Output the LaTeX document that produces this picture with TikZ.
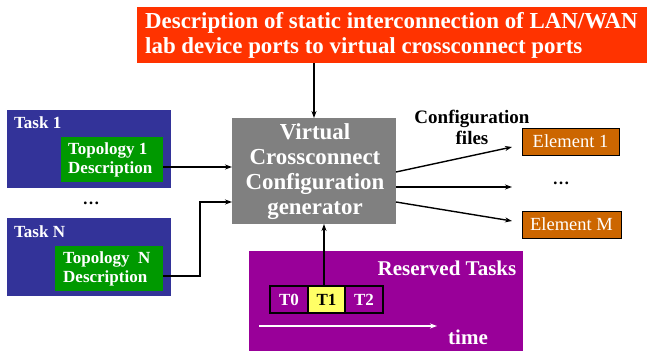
\documentclass[tikz,border=0pt]{standalone}
\usepackage{fontspec}
\setmainfont{Liberation Serif}
\usetikzlibrary{arrows.meta}
\definecolor{cred}{HTML}{FF3300}
\definecolor{cblue}{HTML}{333399}
\definecolor{cgreen}{HTML}{009900}
\definecolor{cgray}{HTML}{808080}
\definecolor{corange}{HTML}{CC6600}
\definecolor{cpurple}{HTML}{990099}
\definecolor{cyellow}{HTML}{FFFF66}
\tikzset{
  box/.style={rectangle, inner sep=0pt, outer sep=0pt},
  arr/.style={line width=1.4pt, -{Stealth[length=7pt,width=5pt]}},
  wtxt/.style={text=white, font=\bfseries},
  elem/.style={box, fill=corange, draw=black, line width=0.8pt, text=white,
    font=\fontsize{18.5}{20}\selectfont, minimum height=27pt},
  tbox/.style={box, draw=black, line width=1.6pt, minimum height=27pt,
    font=\fontsize{17}{18}\selectfont\bfseries},
}
\begin{document}
\begin{tikzpicture}[x=1pt,y=-1pt]
\useasboundingbox (0,0) rectangle (648,351);
% top red
\node[box, fill=cred, minimum width=510pt, minimum height=56pt] (desc) at (392,35) {};
\node[wtxt, anchor=west, align=left, inner sep=0pt,
  font=\fontsize{22.9}{25}\selectfont\bfseries] (desct) at (145,35)
  {Description of static interconnection of LAN/WAN\\lab device ports to virtual crossconnect ports};
% generator
\node[box, fill=cgray, minimum width=164pt, minimum height=106pt] (gen) at (314,171) {};
\node[wtxt, align=center, inner sep=0pt, font=\fontsize{22.9}{25}\selectfont\bfseries] (gent) at (315,172)
  {Virtual\\Crossconnect\\Configuration\\generator};
% tasks
\node[box, fill=cblue, minimum width=164pt, minimum height=78pt] (task1) at (89,149) {};
\node[wtxt, anchor=base west, inner sep=0pt, font=\fontsize{17}{19}\selectfont\bfseries] (task1t) at (14,128) {Task 1};
\node[box, fill=cgreen, minimum width=102pt, minimum height=45pt] (topo1) at (112,159.5) {};
\node[wtxt, anchor=west, align=left, inner sep=0pt, font=\fontsize{17}{19}\selectfont\bfseries] (topo1t) at (68,160)
  {Topology 1\\Description};
\node[font=\fontsize{17}{18}\selectfont\bfseries] (tdots) at (91,203) {\dots};
\node[box, fill=cblue, minimum width=164pt, minimum height=78pt] (taskn) at (89,257) {};
\node[wtxt, anchor=base west, inner sep=0pt, font=\fontsize{17}{19}\selectfont\bfseries] (tasknt) at (14,237) {Task N};
\node[box, fill=cgreen, minimum width=108pt, minimum height=45pt] (topon) at (109,268.5) {};
\node[wtxt, anchor=west, align=left, inner sep=0pt, font=\fontsize{17}{19}\selectfont\bfseries] (topont) at (63,269)
  {Topology\ \ N\\Description};
% elements
\node[elem, minimum width=97pt] (el1) at (570.5,141.5) {Element 1};
\node[font=\fontsize{17}{18}\selectfont\bfseries] (edots) at (561,183) {\dots};
\node[elem, minimum width=99pt] (elm) at (571.5,224.5) {Element M};
\node[align=center, inner sep=0pt, font=\fontsize{19}{21}\selectfont\bfseries] (cfg) at (472,127)
  {Configuration\\files};
% reserved tasks
\node[box, fill=cpurple, minimum width=274pt, minimum height=100pt] (res) at (386,301) {};
\node[wtxt, font=\fontsize{21}{22}\selectfont\bfseries, inner sep=0pt] (rest) at (447,268) {Reserved Tasks};
\node[tbox, fill=cpurple, text=white, minimum width=38pt] (t0) at (289,299.5) {T0};
\node[tbox, fill=cyellow, text=black, minimum width=37pt] (t1) at (326.5,299.5) {T1};
\node[tbox, fill=cpurple, text=white, minimum width=38pt] (t2) at (364,299.5) {T2};
\coordinate (ts) at (259,326);
\coordinate (te) at (437,326);
\draw[white, line width=1.4pt, -{Stealth[length=7pt,width=5pt]}] (ts) -- (te);
\node[wtxt, font=\fontsize{21}{22}\selectfont\bfseries, inner sep=0pt] (time) at (468,337) {time};
% connectors
\draw[arr] (desc.south -| gen.north) -- (gen.north);
\draw[arr] ([xshift=-2.5pt]t1.north) -- ([xshift=10pt]gen.south);
\draw[arr] ([yshift=-7.5pt]topo1.east) -- ([yshift=-7.5pt]topo1.east -| gen.west);
\coordinate (bend) at (200,276);
\coordinate (gw) at ([yshift=-31pt]gen.west);
\draw[arr] ([yshift=-7.5pt]topon.east) -- (bend) -- (bend |- gw) -- (gw);
\coordinate (a1) at (512,147);
\coordinate (a2) at (512,187);
\coordinate (a3) at (512,221);
\draw[arr] ([yshift=-1pt]gen.east) -- (a1);
\draw[arr] ([yshift=-16pt]gen.east) -- (a2);
\draw[arr] ([yshift=-31pt]gen.east) -- (a3);
\end{tikzpicture}
\end{document}
